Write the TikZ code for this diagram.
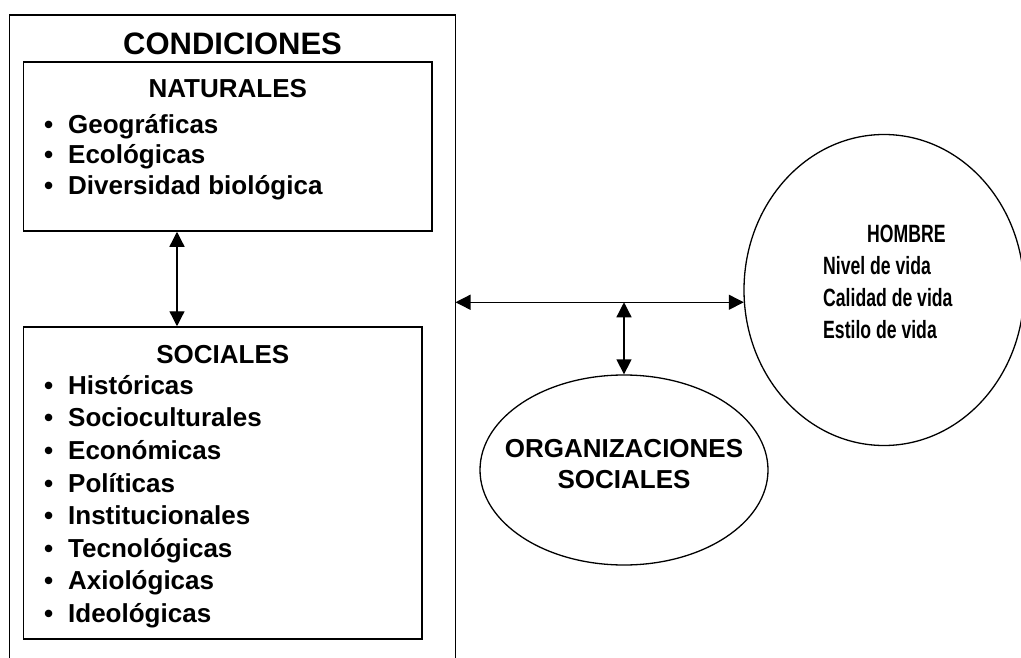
\documentclass[tikz,border=0pt]{standalone}
\usepackage{fontspec}
\setmainfont{Liberation Sans}
\newfontfamily\estrecha[FakeStretch=0.705]{Liberation Sans}
\usetikzlibrary{arrows.meta,shapes.geometric}
\newcommand{\vineta}[1]{\strut\makebox[24pt][l]{•}#1}

\begin{document}
\begin{tikzpicture}[x=1pt, y=-1pt,
    caja/.style={draw, line width=1.5pt, inner sep=0pt},
    elipse/.style={draw, ellipse, line width=1.3pt, inner sep=0pt},
    titulo/.style={anchor=base, inner sep=0pt, font=\bfseries\fontsize{26}{31}\selectfont},
    lista/.style={anchor=north west, align=left, inner sep=0pt},
    flecha/.style={>={Triangle[length=15pt,width=15pt]}, <->, line width=1.3pt}]
\useasboundingbox (0,0) rectangle (1021,658);

% marco exterior
\coordinate (marcoSO) at (9.5,658);
\coordinate (marcoNO) at (9.5,15);
\coordinate (marcoNE) at (455.5,15);
\coordinate (marcoSE) at (455.5,658);
\draw[line width=1.5pt] (marcoSO) -- (marcoNO) -- (marcoNE) -- (marcoSE);
\node[titulo, font=\bfseries\fontsize{31}{36}\selectfont] (condiciones) at (232.5,55) {CONDICIONES};

% condiciones naturales
\node[caja, minimum width=408.5pt, minimum height=169pt] (naturales) at (227.75,146.5) {};
\node[titulo] (natTitulo) at (227.75,98) {NATURALES};
\node[lista, font=\bfseries\fontsize{26}{30.5}\selectfont] (natLista) at (44,111.65) {%
    \vineta{Geográficas}\\
    \vineta{Ecológicas}\\
    \vineta{Diversidad biológica}};

% condiciones sociales
\node[caja, minimum width=398.5pt, minimum height=312pt] (sociales) at (222.75,483) {};
\node[titulo] (socTitulo) at (222.75,363) {SOCIALES};
\node[lista, font=\bfseries\fontsize{26}{32.6}\selectfont] (socLista) at (44,371.2) {%
    \vineta{Históricas}\\
    \vineta{Socioculturales}\\
    \vineta{Económicas}\\
    \vineta{Políticas}\\
    \vineta{Institucionales}\\
    \vineta{Tecnológicas}\\
    \vineta{Axiológicas}\\
    \vineta{Ideológicas}};

% hombre
\node[elipse, minimum width=280pt, minimum height=311pt] (hombre) at (884,290) {};
\node[lista, font=\estrecha\bfseries\fontsize{25}{32}\selectfont] (hombreTxt) at (823,219.6) {%
    \strut\hspace*{44pt}HOMBRE\\
    \strut Nivel de vida\\
    \strut Calidad de vida\\
    \strut Estilo de vida};

% organizaciones sociales
\node[elipse, minimum width=288pt, minimum height=190pt] (org) at (624,470) {};
\node[anchor=north, align=center, inner sep=0pt, font=\bfseries\fontsize{26}{31}\selectfont] (orgTxt) at (624,435.3) {%
    \strut ORGANIZACIONES\\
    \strut SOCIALES};

% flechas
\coordinate (ejeA) at (177,0);
\draw[flecha] (naturales.south -| ejeA) -- (sociales.north -| ejeA);
\draw[flecha] (hombre.185 -| marcoNE) -- (hombre.185);
\draw[flecha] (org.north |- hombre.185) -- (org.north);
\end{tikzpicture}
\end{document}
